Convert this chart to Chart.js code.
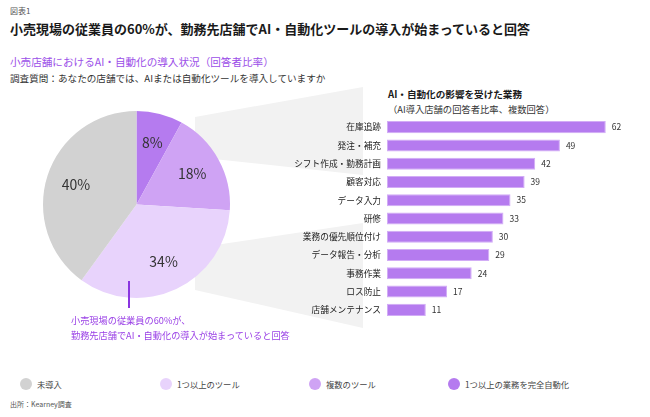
<!DOCTYPE html>
<html lang="ja">
<head>
<meta charset="utf-8">
<script src="https://cdn.jsdelivr.net/npm/chart.js@4.4.1/dist/chart.umd.min.js"></script>
<style>
  html, body { margin: 0; padding: 0; background: #fff; }
  body { width: 650px; height: 417px; position: relative; overflow: hidden; font-family: "Noto Sans CJK JP", "Noto Sans", sans-serif; }
  .txt { position: absolute; white-space: nowrap; }
  #fig { left: 10px; top: 5px; font-size: 8px; line-height: 12px; color: #555; }
  #title { left: 10px; top: 20px; font-size: 13px; line-height: 18px; font-weight: bold; color: #1a1a1a; }
  #subtitle { left: 10px; top: 54px; font-size: 10.6px; line-height: 16px; color: #9b4ee8; }
  #question { left: 10px; top: 70px; font-size: 9.6px; line-height: 16px; color: #333; }
  #barTitle { left: 388px; top: 87px; font-size: 9.6px; line-height: 14px; font-weight: bold; color: #1a1a1a; }
  #barSub { left: 388px; top: 102px; font-size: 9.3px; line-height: 14px; color: #333; }
  #note { left: 71px; top: 313px; font-size: 9.2px; line-height: 15px; color: #9a40e6; }
  #noteLine { position: absolute; left: 128px; top: 281px; width: 2px; height: 27px; background: #8a35e0; }
  #source { left: 10px; top: 399px; font-size: 7px; line-height: 10px; color: #555; }
  #funnel { position: absolute; left: 0; top: 0; }
  #pieChart { position: absolute; left: 36px; top: 104px; }
  #barChart { position: absolute; left: 280px; top: 118px; }
  .legend-item { position: absolute; top: 377px; height: 14px; font-size: 8.3px; line-height: 14px; color: #444; white-space: nowrap; }
  .legend-item span.dot { position: absolute; left: 0; top: 1px; width: 12px; height: 12px; border-radius: 50%; }
  .legend-item span.lbl { position: absolute; left: 17px; top: 0; }
</style>
</head>
<body>
<svg id="funnel" width="650" height="417">
  <polygon points="195,117 363,87 363,175 195,157" fill="#f2f2f2"/>
  <polygon points="195,248 363,223 363,328 195,290" fill="#f2f2f2"/>
</svg>

<div class="txt" id="fig">図表1</div>
<div class="txt" id="title">小売現場の従業員の60%が、勤務先店舗でAI・自動化ツールの導入が始まっていると回答</div>
<div class="txt" id="subtitle">小売店舗におけるAI・自動化の導入状況（回答者比率）</div>
<div class="txt" id="question">調査質問：あなたの店舗では、AIまたは自動化ツールを導入していますか</div>
<div class="txt" id="barTitle">AI・自動化の影響を受けた業務</div>
<div class="txt" id="barSub">（AI導入店舗の回答者比率、複数回答）</div>

<canvas id="pieChart" width="201" height="201"></canvas>
<canvas id="barChart" width="354" height="201"></canvas>

<div id="noteLine"></div>
<div class="txt" id="note">小売現場の従業員の60%が、<br>勤務先店舗でAI・自動化の導入が始まっていると回答</div>

<div id="legend"></div>
<div class="txt" id="source">出所：Kearney調査</div>

<script>
// pie: adoption status (clockwise from 12 o'clock)
const pieLabels = ["1つ以上の業務を完全自動化", "複数のツール", "1つ以上のツール", "未導入"];
const pieValues = [8, 18, 34, 40];
const pieColors = ["#b57bef", "#cfa3f4", "#e8d3fc", "#d2d2d2"];

// bars: tasks affected by AI / automation
const taskLabels = ["在庫追跡", "発注・補充", "シフト作成・勤務計画", "顧客対応", "データ入力", "研修",
    "業務の優先順位付け", "データ報告・分析", "事務作業", "ロス防止", "店舗メンテナンス"];
const taskValues = [62, 49, 42, 39, 35, 33, 30, 29, 24, 17, 11];

const fontFamily = '"Noto Sans CJK JP", "Noto Sans", sans-serif';

// percent labels inside the slices
const pieLabelPlugin = {
    id: "pieLabels",
    afterDatasetsDraw(chart) {
        const ctx = chart.ctx;
        const meta = chart.getDatasetMeta(0);
        ctx.save();
        ctx.font = "14px " + fontFamily;
        ctx.fillStyle = "#333";
        ctx.textAlign = "center";
        ctx.textBaseline = "middle";
        meta.data.forEach((arc, i) => {
            const p = arc.getProps(["x", "y", "startAngle", "endAngle", "outerRadius"], true);
            const mid = (p.startAngle + p.endAngle) / 2;
            const r = p.outerRadius * 0.68;
            ctx.fillText(pieValues[i] + "%", p.x + Math.cos(mid) * r, p.y + Math.sin(mid) * r);
        });
        ctx.restore();
    }
};

// value labels at the end of each bar
const barValuePlugin = {
    id: "barValues",
    afterDatasetsDraw(chart) {
        const ctx = chart.ctx;
        const meta = chart.getDatasetMeta(0);
        ctx.save();
        ctx.font = "8.5px " + fontFamily;
        ctx.fillStyle = "#333";
        ctx.textAlign = "left";
        ctx.textBaseline = "middle";
        meta.data.forEach((bar, i) => {
            ctx.fillText(taskValues[i], bar.x + 6, bar.y);
        });
        ctx.restore();
    }
};

new Chart(document.getElementById("pieChart"), {
    type: "pie",
    data: {
        labels: pieLabels,
        datasets: [{
            data: pieValues,
            backgroundColor: pieColors,
            borderWidth: 0
        }]
    },
    options: {
        responsive: false,
        animation: false,
        layout: { padding: 7 },
        plugins: { legend: { display: false }, tooltip: { enabled: false } }
    },
    plugins: [pieLabelPlugin]
});

new Chart(document.getElementById("barChart"), {
    type: "bar",
    data: {
        labels: taskLabels,
        datasets: [{
            data: taskValues,
            backgroundColor: "#b57bef",
            borderColor: "#d2acf6",
            borderWidth: 1,
            borderSkipped: false,
            barPercentage: 0.66,
            categoryPercentage: 1
        }]
    },
    options: {
        indexAxis: "y",
        responsive: false,
        animation: false,
        layout: { padding: 0 },
        scales: {
            x: { display: false, min: 0, max: 70 },
            y: {
                grid: { display: false, drawTicks: false },
                border: { display: false },
                ticks: { padding: 6, color: "#222", font: { family: fontFamily, size: 8.7 } },
                afterFit(scale) {
                    // fixed label column, and no extra room kept for the end labels
                    scale.width = 107;
                    scale.paddingTop = 0;
                    scale.paddingBottom = 0;
                }
            }
        },
        plugins: { legend: { display: false }, tooltip: { enabled: false } }
    },
    plugins: [barValuePlugin]
});

// legend, shown in reverse order of the slices
const legend = document.getElementById("legend");
const legendLeft = [20, 160, 309, 448];
pieLabels.slice().reverse().forEach((label, i) => {
    const color = pieColors[pieLabels.length - 1 - i];
    const item = document.createElement("div");
    item.className = "legend-item";
    item.style.left = legendLeft[i] + "px";
    item.innerHTML = `<span class="dot" style="background:${color}"></span><span class="lbl">${label}</span>`;
    legend.appendChild(item);
});
</script>
</body>
</html>
